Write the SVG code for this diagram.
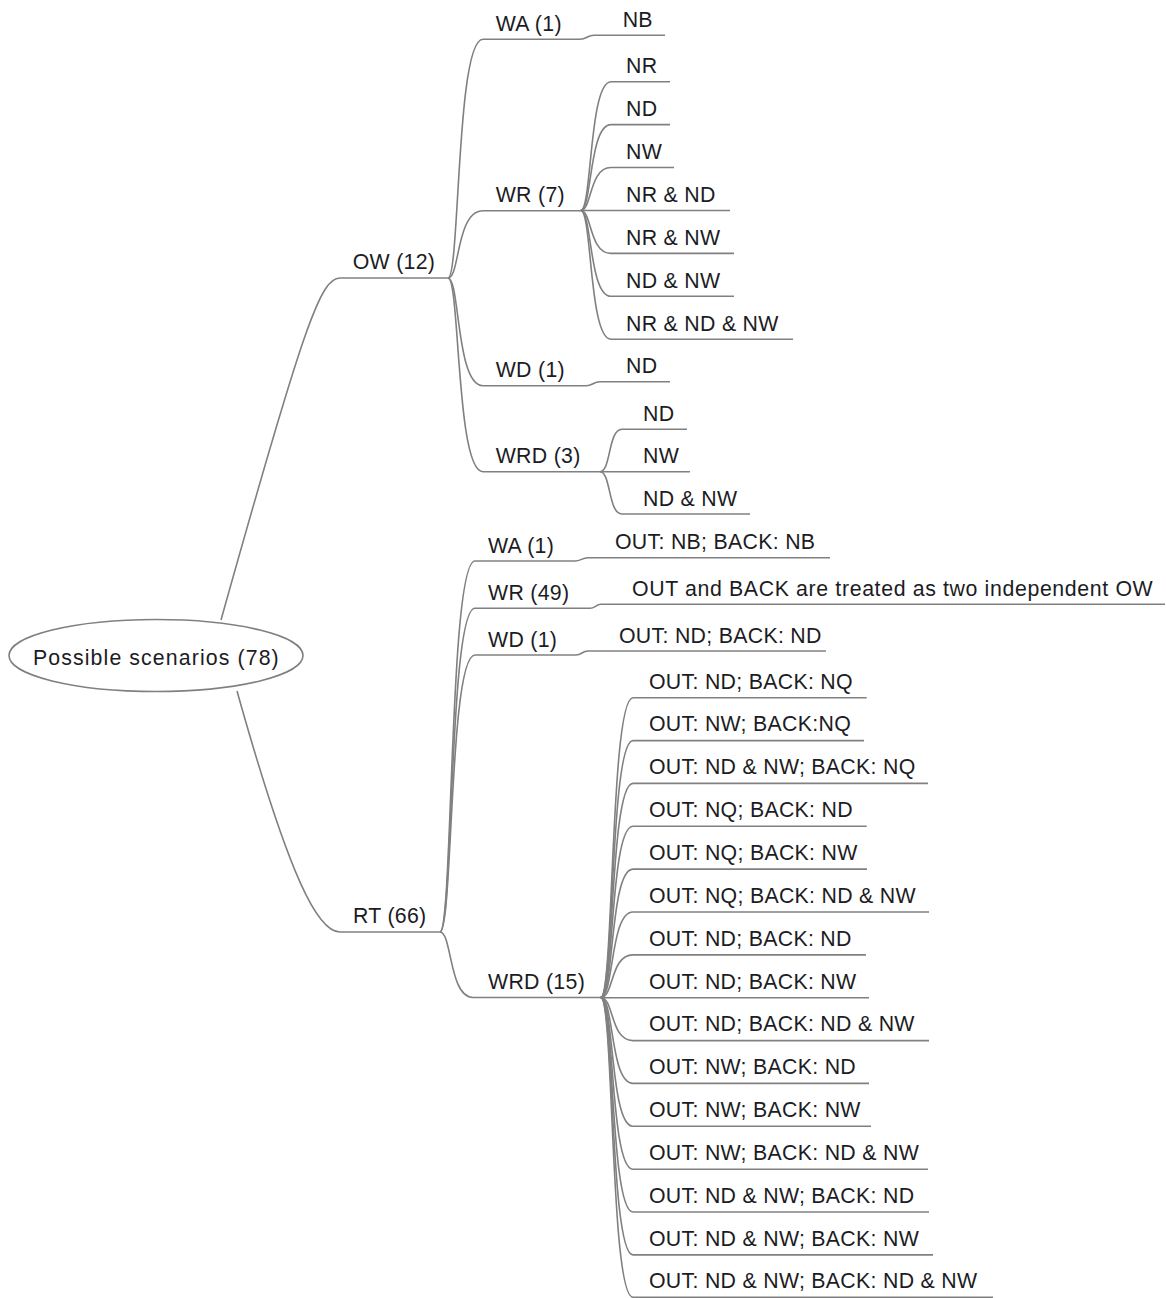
<svg xmlns="http://www.w3.org/2000/svg" width="1166" height="1298" viewBox="0 0 1166 1298">
  <style>
    .bg { fill: #ffffff; }
    text { font-family: "Liberation Sans", Arial, sans-serif; font-size: 21.3px; letter-spacing: 0.3px; fill: #1c1c24; }
    .ul { stroke: #808080; stroke-width: 1.6; fill: none; }
    .root { fill: #ffffff; stroke: #808080; stroke-width: 1.6; }
    #connectors path { stroke: #808080; stroke-width: 1.6; fill: none; }
  </style>
  <rect class="bg" x="0" y="0" width="1166" height="1298"/>

  <!-- curved connectors between topics -->
  <g id="connectors">
    <path d="M221,620 C305,320 321,278 340,278"/>
    <path d="M237,691 C290,880 318,932 340,932"/>
    <!-- OW fan -->
    <path d="M448,278 C460,278 456,39.3 483,39.3"/>
    <path d="M448,278 C460,278 456,210.7 483,210.7"/>
    <path d="M448,278 C460,278 456,385.7 483,385.7"/>
    <path d="M448,278 C460,278 456,471.7 483,471.7"/>
    <!-- WA (1) -> NB -->
    <path d="M580,39.3 C587,39.3 587,35.3 594,35.3"/>
    <!-- WR (7) fan -->
    <path d="M580.7,210.5 C592,210.5 589,81.7 611,81.7"/>
    <path d="M580.7,210.5 C592,210.5 589,124.6 611,124.6"/>
    <path d="M580.7,210.5 C592,210.5 589,167.5 611,167.5"/>
    <path d="M580.7,210.5 C592,210.5 589,253.4 611,253.4"/>
    <path d="M580.7,210.5 C592,210.5 589,296.3 611,296.3"/>
    <path d="M580.7,210.5 C592,210.5 589,339.2 611,339.2"/>
    <!-- WD (1) -> ND -->
    <path d="M586,385.7 C593,385.7 593,381.7 600,381.7"/>
    <!-- WRD (3) fan -->
    <path d="M600,471.7 C611,471.7 608,429.3 622,429.3"/>
    <path d="M600,471.7 C611,471.7 608,514 622,514"/>
    <!-- RT fan -->
    <path d="M440,932 C453,932 449,561 475,561"/>
    <path d="M440,932 C453,932 449,608.3 475,608.3"/>
    <path d="M440,932 C453,932 449,655 475,655"/>
    <path d="M440,932 C452,932 449,997.5 473,997.5"/>
    <!-- RT single children -->
    <path d="M575,561 C581,561 582,557.7 588,557.7"/>
    <path d="M590,608.3 C595,608.3 596,604.3 601,604.3"/>
    <path d="M576,655 C582,655 582,651 588,651"/>
    <!-- WRD (15) fan -->
    <path d="M600.7,997.5 C614,997.5 610,697.7 633,697.7"/>
    <path d="M600.7,997.5 C614,997.5 610,740.6 633,740.6"/>
    <path d="M600.7,997.5 C614,997.5 610,783.4 633,783.4"/>
    <path d="M600.7,997.5 C614,997.5 610,826.3 633,826.3"/>
    <path d="M600.7,997.5 C614,997.5 610,869.1 633,869.1"/>
    <path d="M600.7,997.5 C614,997.5 610,912 633,912"/>
    <path d="M600.7,997.5 C614,997.5 610,954.9 633,954.9"/>
    <path d="M600.7,997.5 C614,997.5 610,1040.6 633,1040.6"/>
    <path d="M600.7,997.5 C614,997.5 610,1083.4 633,1083.4"/>
    <path d="M600.7,997.5 C614,997.5 610,1126.3 633,1126.3"/>
    <path d="M600.7,997.5 C614,997.5 610,1169.2 633,1169.2"/>
    <path d="M600.7,997.5 C614,997.5 610,1212 633,1212"/>
    <path d="M600.7,997.5 C614,997.5 610,1254.9 633,1254.9"/>
    <path d="M600.7,997.5 C614,997.5 610,1297.2 633,1297.2"/>
  </g>

  <!-- central topic -->
  <g id="root">
    <ellipse class="root" cx="156" cy="655.5" rx="147" ry="36"/>
    <text x="156" y="665" text-anchor="middle" textLength="246" lengthAdjust="spacing">Possible scenarios (78)</text>
  </g>

  <!-- one-way branch -->
  <g id="ow">
    <line class="ul" x1="340" y1="278" x2="448" y2="278"/>
    <text x="352.7" y="269">OW (12)</text>
  </g>
  <g id="ow-wa">
    <line class="ul" x1="483" y1="39.3" x2="580" y2="39.3"/>
    <text x="495.7" y="31">WA (1)</text>
  </g>
  <g id="ow-wa-nb">
    <line class="ul" x1="594" y1="35.3" x2="665" y2="35.3"/>
    <text x="622.7" y="27">NB</text>
  </g>
  <g id="ow-wr">
    <line class="ul" x1="483" y1="210.7" x2="580.7" y2="210.7"/>
    <text x="495.7" y="202">WR (7)</text>
  </g>
  <g id="ow-wr-nr">
    <line class="ul" x1="611" y1="81.7" x2="670" y2="81.7"/>
    <text x="626" y="73.2">NR</text>
  </g>
  <g id="ow-wr-nd">
    <line class="ul" x1="611" y1="124.6" x2="670" y2="124.6"/>
    <text x="626" y="116.1">ND</text>
  </g>
  <g id="ow-wr-nw">
    <line class="ul" x1="611" y1="167.5" x2="674" y2="167.5"/>
    <text x="626" y="159">NW</text>
  </g>
  <g id="ow-wr-nr-nd">
    <line class="ul" x1="580.7" y1="210.5" x2="730" y2="210.5"/>
    <text x="626" y="202">NR &amp; ND</text>
  </g>
  <g id="ow-wr-nr-nw">
    <line class="ul" x1="611" y1="253.4" x2="734" y2="253.4"/>
    <text x="626" y="244.9">NR &amp; NW</text>
  </g>
  <g id="ow-wr-nd-nw">
    <line class="ul" x1="611" y1="296.3" x2="734" y2="296.3"/>
    <text x="626" y="287.8">ND &amp; NW</text>
  </g>
  <g id="ow-wr-nr-nd-nw">
    <line class="ul" x1="611" y1="339.2" x2="793" y2="339.2"/>
    <text x="626" y="330.7">NR &amp; ND &amp; NW</text>
  </g>
  <g id="ow-wd">
    <line class="ul" x1="483" y1="385.7" x2="586" y2="385.7"/>
    <text x="495.7" y="377">WD (1)</text>
  </g>
  <g id="ow-wd-nd">
    <line class="ul" x1="600" y1="381.7" x2="670" y2="381.7"/>
    <text x="626" y="373">ND</text>
  </g>
  <g id="ow-wrd">
    <line class="ul" x1="483" y1="471.7" x2="600" y2="471.7"/>
    <text x="495.7" y="463">WRD (3)</text>
  </g>
  <g id="ow-wrd-nd">
    <line class="ul" x1="622" y1="429.3" x2="687" y2="429.3"/>
    <text x="643" y="420.8">ND</text>
  </g>
  <g id="ow-wrd-nw">
    <line class="ul" x1="600" y1="471.7" x2="690" y2="471.7"/>
    <text x="643" y="463.2">NW</text>
  </g>
  <g id="ow-wrd-nd-nw">
    <line class="ul" x1="622" y1="514" x2="750" y2="514"/>
    <text x="643" y="505.5">ND &amp; NW</text>
  </g>

  <!-- round-trip branch -->
  <g id="rt">
    <line class="ul" x1="340" y1="932" x2="440" y2="932"/>
    <text x="353" y="923">RT (66)</text>
  </g>
  <g id="rt-wa">
    <line class="ul" x1="475" y1="561" x2="575" y2="561"/>
    <text x="488" y="553">WA (1)</text>
  </g>
  <g id="rt-wa-out">
    <line class="ul" x1="588" y1="557.7" x2="830" y2="557.7"/>
    <text x="615" y="549">OUT: NB; BACK: NB</text>
  </g>
  <g id="rt-wr">
    <line class="ul" x1="475" y1="608.3" x2="590" y2="608.3"/>
    <text x="488" y="600">WR (49)</text>
  </g>
  <g id="rt-wr-out">
    <line class="ul" x1="601" y1="604.3" x2="1165" y2="604.3"/>
    <text x="632" y="596" textLength="521" lengthAdjust="spacing">OUT and BACK are treated as two independent OW</text>
  </g>
  <g id="rt-wd">
    <line class="ul" x1="475" y1="655" x2="576" y2="655"/>
    <text x="488" y="646.7">WD (1)</text>
  </g>
  <g id="rt-wd-out">
    <line class="ul" x1="588" y1="651" x2="826" y2="651"/>
    <text x="619" y="642.7">OUT: ND; BACK: ND</text>
  </g>
  <g id="rt-wrd">
    <line class="ul" x1="473" y1="997.5" x2="600.7" y2="997.5"/>
    <text x="488" y="988.5">WRD (15)</text>
  </g>

  <!-- WRD (15) outcomes -->
  <g id="rt-wrd-01">
    <line class="ul" x1="633" y1="697.7" x2="866.7" y2="697.7"/>
    <text x="649" y="688.5">OUT: ND; BACK: NQ</text>
  </g>
  <g id="rt-wrd-02">
    <line class="ul" x1="633" y1="740.6" x2="864" y2="740.6"/>
    <text x="649" y="731.4">OUT: NW; BACK:NQ</text>
  </g>
  <g id="rt-wrd-03">
    <line class="ul" x1="633" y1="783.4" x2="928" y2="783.4"/>
    <text x="649" y="774.2">OUT: ND &amp; NW; BACK: NQ</text>
  </g>
  <g id="rt-wrd-04">
    <line class="ul" x1="633" y1="826.3" x2="866.7" y2="826.3"/>
    <text x="649" y="817.1">OUT: NQ; BACK: ND</text>
  </g>
  <g id="rt-wrd-05">
    <line class="ul" x1="633" y1="869.1" x2="867" y2="869.1"/>
    <text x="649" y="859.9">OUT: NQ; BACK: NW</text>
  </g>
  <g id="rt-wrd-06">
    <line class="ul" x1="633" y1="912" x2="929" y2="912"/>
    <text x="649" y="902.8">OUT: NQ; BACK: ND &amp; NW</text>
  </g>
  <g id="rt-wrd-07">
    <line class="ul" x1="633" y1="954.9" x2="866" y2="954.9"/>
    <text x="649" y="945.7">OUT: ND; BACK: ND</text>
  </g>
  <g id="rt-wrd-08">
    <line class="ul" x1="600.7" y1="997.7" x2="869" y2="997.7"/>
    <text x="649" y="988.5">OUT: ND; BACK: NW</text>
  </g>
  <g id="rt-wrd-09">
    <line class="ul" x1="633" y1="1040.6" x2="929" y2="1040.6"/>
    <text x="649" y="1031.4">OUT: ND; BACK: ND &amp; NW</text>
  </g>
  <g id="rt-wrd-10">
    <line class="ul" x1="633" y1="1083.4" x2="869" y2="1083.4"/>
    <text x="649" y="1074.2">OUT: NW; BACK: ND</text>
  </g>
  <g id="rt-wrd-11">
    <line class="ul" x1="633" y1="1126.3" x2="871" y2="1126.3"/>
    <text x="649" y="1117.1">OUT: NW; BACK: NW</text>
  </g>
  <g id="rt-wrd-12">
    <line class="ul" x1="633" y1="1169.2" x2="928" y2="1169.2"/>
    <text x="649" y="1160">OUT: NW; BACK: ND &amp; NW</text>
  </g>
  <g id="rt-wrd-13">
    <line class="ul" x1="633" y1="1212" x2="929" y2="1212"/>
    <text x="649" y="1202.8">OUT: ND &amp; NW; BACK: ND</text>
  </g>
  <g id="rt-wrd-14">
    <line class="ul" x1="633" y1="1254.9" x2="933" y2="1254.9"/>
    <text x="649" y="1245.7">OUT: ND &amp; NW; BACK: NW</text>
  </g>
  <g id="rt-wrd-15">
    <line class="ul" x1="633" y1="1297.2" x2="993" y2="1297.2"/>
    <text x="649" y="1288">OUT: ND &amp; NW; BACK: ND &amp; NW</text>
  </g>
</svg>
